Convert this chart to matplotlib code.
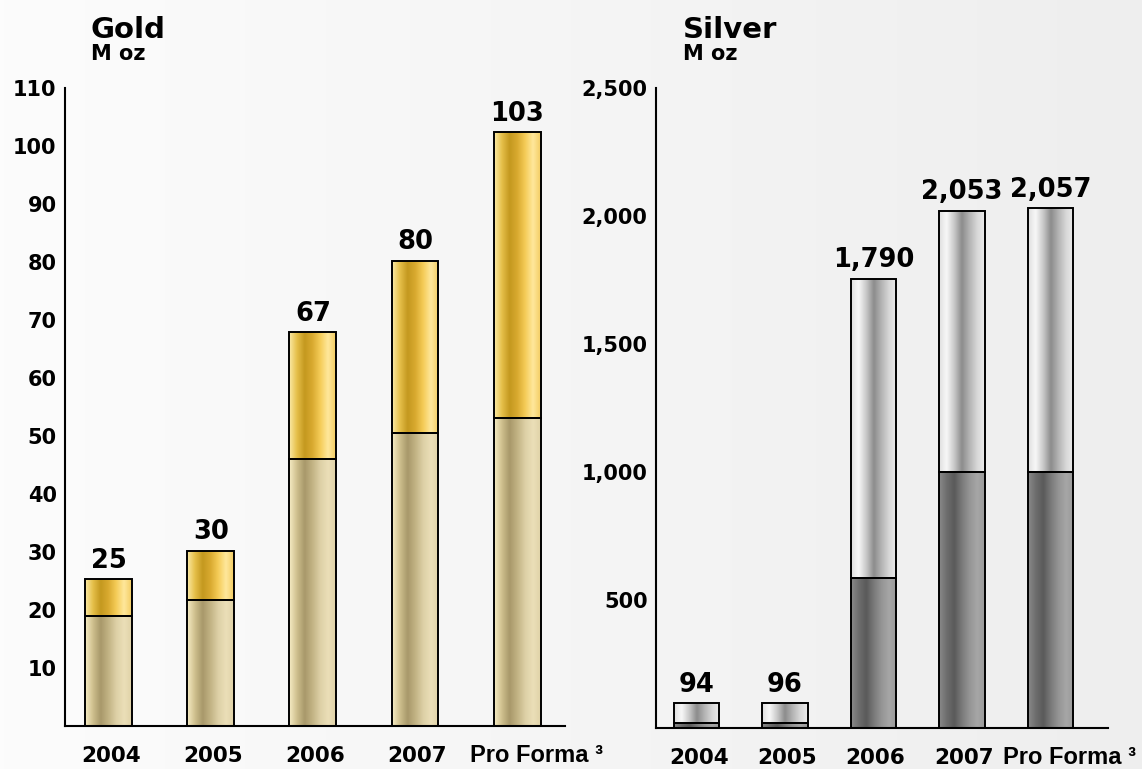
"""Gold and silver reserves, 2004 to pro forma, as two stacked bar panels."""
import numpy as np
import matplotlib
matplotlib.use('Agg')
import matplotlib.pyplot as plt
from matplotlib.colors import LinearSegmentedColormap

CATEGORIES = ['2004', '2005', '2006', '2007', 'Pro Forma \u00b3']

# Gold, M oz: lower (beige) and upper (gold) segments, plus printed totals
GOLD_LOWER = [19.0, 21.7, 46.0, 50.5, 53.1]
GOLD_UPPER = [6.3, 8.5, 21.9, 29.7, 49.3]
GOLD_LABELS = ['25', '30', '67', '80', '103']
GOLD_TICKS = [10, 20, 30, 40, 50, 60, 70, 80, 90, 100, 110]

# Silver, M oz
SILVER_LOWER = [20, 20, 586, 1000, 1000]
SILVER_UPPER = [77, 77, 1168, 1020, 1031]
SILVER_LABELS = ['94', '96', '1,790', '2,053', '2,057']
SILVER_TICKS = [500, 1000, 1500, 2000, 2500]

# Horizontal shading stops, left edge to right edge of each bar
GOLD_TOP_STOPS = ['#fbeaa8', '#e6c04a', '#c4981f', '#d9aa30', '#f5cc58',
                  '#ffe89c', '#f3cc62']
GOLD_BOTTOM_STOPS = ['#f7edc6', '#cfc08e', '#a8986a', '#c2b384', '#ddd0a6',
                     '#ebdfb8', '#e0d2a8']
SILVER_TOP_STOPS = ['#dedede', '#f8f8f8', '#c8c8c8', '#8c8c8c', '#b4b4b4',
                    '#d8d8d8', '#ececec']
SILVER_BOTTOM_STOPS = ['#8a8a8a', '#6e6e6e', '#5a5a5a', '#7a7a7a', '#959595',
                       '#a6a6a6', '#9a9a9a']

BOLD = 'DejaVu Sans'
ARIAL = 'Liberation Sans'


def shade(ax, bars, stops):
    """Fill each bar with a left-to-right gradient clipped to the bar."""
    cmap = LinearSegmentedColormap.from_list('shade', stops)
    grad = np.linspace(0, 1, 256).reshape(1, -1)
    for b in bars:
        x0, y0 = b.get_x(), b.get_y()
        im = ax.imshow(grad, cmap=cmap, aspect='auto', interpolation='bicubic',
                       extent=(x0, x0 + b.get_width(), y0, y0 + b.get_height()),
                       zorder=1)
        im.set_clip_path(b)


def panel(fig, rect, lower, upper, labels, ticks, ylim, xlim, width,
          stops_bottom, stops_top, fmt, title, title_x):
    ax = fig.add_axes(rect)
    ax.set_facecolor('none')
    x = np.arange(len(CATEGORIES))
    low = ax.bar(x, lower, width, facecolor='none', edgecolor='black',
                 linewidth=1.4, zorder=2)
    top = ax.bar(x, upper, width, bottom=lower, facecolor='none',
                 edgecolor='black', linewidth=1.4, zorder=2)
    shade(ax, low, stops_bottom)
    shade(ax, top, stops_top)
    ax.bar_label(top, labels=labels, padding=4, fontsize=18.5,
                 fontweight='bold', family=BOLD)

    ax.set_xlim(*xlim)
    ax.set_ylim(*ylim)
    ax.set_xticks(x)
    ax.set_xticklabels([])
    ax.set_yticks(ticks)
    ax.set_yticklabels([fmt(t) for t in ticks], fontsize=15,
                       fontweight='bold', family=BOLD)
    ax.tick_params(axis='x', length=0)
    ax.tick_params(axis='y', length=0, pad=6)

    # category names drawn by hand: years in the Verdana-like face,
    # 'Pro Forma' in an Arial-like face, left-aligned a little past the bar
    for i, name in enumerate(CATEGORIES):
        if name.startswith('Pro'):
            ax.annotate(name, xy=(i, 0), xycoords=('data', 'axes fraction'),
                        xytext=(-34, -26), textcoords='offset points',
                        ha='left', va='baseline', fontsize=17,
                        fontweight='bold', family=ARIAL)
        else:
            ax.annotate(name, xy=(i, 0), xycoords=('data', 'axes fraction'),
                        xytext=(1.5, -26), textcoords='offset points',
                        ha='center', va='baseline', fontsize=15.5,
                        fontweight='bold', family=BOLD)

    for side in ('top', 'right'):
        ax.spines[side].set_visible(False)
    for side in ('left', 'bottom'):
        ax.spines[side].set_linewidth(1.5)
        ax.spines[side].set_color('black')

    fig.text(title_x, 1 - 38 / 769, title, fontsize=21, fontweight='bold',
             family=BOLD, va='baseline', ha='left')
    fig.text(title_x, 1 - 60 / 769, 'M oz', fontsize=15, fontweight='bold',
             family=BOLD, va='baseline', ha='left')
    return ax


def main():
    fig = plt.figure(figsize=(11.42, 7.69), dpi=100)
    fig.patch.set_facecolor('#f4f4f4')

    # soft grey backdrop, lighter on the left
    bg = fig.add_axes([0, 0, 1, 1], zorder=-1)
    bg_cmap = LinearSegmentedColormap.from_list('bg', ['#fcfcfc', '#eeeeee'])
    bg.imshow(np.linspace(0, 1, 256).reshape(1, -1), cmap=bg_cmap,
              aspect='auto', extent=(0, 1, 0, 1))
    bg.axis('off')

    panel(fig, [65 / 1142, 43 / 769, 500 / 1142, 638 / 769],
          GOLD_LOWER, GOLD_UPPER, GOLD_LABELS, GOLD_TICKS,
          (0, 110), (-0.43, 4.47), 0.46,
          GOLD_BOTTOM_STOPS, GOLD_TOP_STOPS, lambda t: f'{t}',
          'Gold', 91 / 1142)

    panel(fig, [656 / 1142, 41 / 769, 452 / 1142, 640 / 769],
          SILVER_LOWER, SILVER_UPPER, SILVER_LABELS, SILVER_TICKS,
          (0, 2500), (-0.458, 4.65), 0.51,
          SILVER_BOTTOM_STOPS, SILVER_TOP_STOPS, lambda t: f'{t:,}',
          'Silver', 683 / 1142)

    fig.savefig('out.png', dpi=100, facecolor=fig.get_facecolor())
    plt.close(fig)


if __name__ == '__main__':
    main()
